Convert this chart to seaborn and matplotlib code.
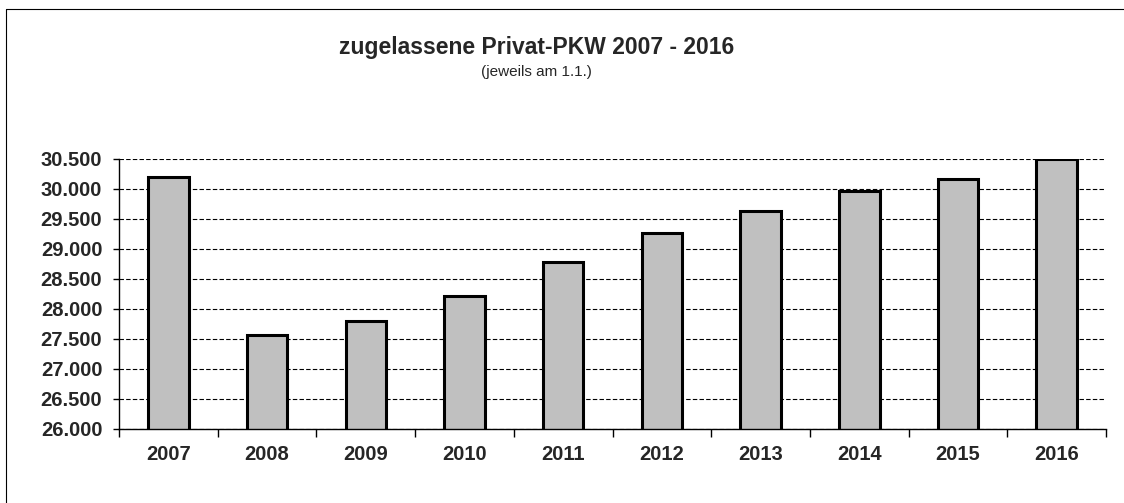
import matplotlib
matplotlib.use("Agg")
import matplotlib.pyplot as plt
import seaborn as sns
import pandas as pd
from matplotlib.lines import Line2D
from matplotlib.ticker import FuncFormatter, FixedLocator

# Daten (Tausend Privat-PKW, jeweils am 1.1.)
jahre = ["2007", "2008", "2009", "2010", "2011", "2012", "2013", "2014", "2015", "2016"]
pkw = [30200, 27560, 27800, 28220, 28780, 29260, 29630, 29970, 30160, 30500]
y_ticks = [26000, 26500, 27000, 27500, 28000, 28500, 29000, 29500, 30000, 30500]

sns.set_style("white")
plt.rcParams["font.family"] = ["Liberation Sans", "DejaVu Sans"]

df = pd.DataFrame({"Jahr": jahre, "PKW": pkw})

fig = plt.figure(figsize=(11.24, 5.03), dpi=100)
ax = fig.add_axes([0.1059, 0.1477, 0.8781, 0.5362])

sns.barplot(data=df, x="Jahr", y="PKW", color="#C0C0C0", edgecolor="black",
            linewidth=2.2, width=0.41, saturation=1, ax=ax)

ax.set_ylim(y_ticks[0], y_ticks[-1])
ax.set_xlim(-0.5, len(jahre) - 0.5)
ax.yaxis.set_major_locator(FixedLocator(y_ticks))
ax.yaxis.set_major_formatter(FuncFormatter(lambda v, p: f"{v:,.0f}".replace(",", ".")))
ax.set_axisbelow(True)
ax.grid(axis="y", color="black", linestyle=(0, (4, 2)), linewidth=0.8)
ax.grid(axis="x", visible=False)

ax.set_xlabel("")
ax.set_ylabel("")
for s in ["top", "right"]:
    ax.spines[s].set_visible(False)
for s in ["left", "bottom"]:
    ax.spines[s].set_color("black")
    ax.spines[s].set_linewidth(1.0)

# Teilstriche zwischen den Kategorien
ax.set_xticks([i - 0.5 for i in range(len(jahre) + 1)], minor=True)
ax.tick_params(axis="x", which="minor", direction="out", length=6, width=1, color="black", bottom=True)
ax.tick_params(axis="x", which="major", length=0, pad=12, labelsize=14.5)
ax.tick_params(axis="y", which="major", direction="out", length=4, width=1, color="black",
               pad=8, labelsize=14.5, left=True)
for lbl in ax.get_xticklabels() + ax.get_yticklabels():
    lbl.set_fontweight("bold")

fig.text(0.477, 0.905, "zugelassene Privat-PKW 2007 - 2016", ha="center", va="center",
         fontsize=16.5, fontweight="bold")
fig.text(0.477, 0.857, "(jeweils am 1.1.)", ha="center", va="center", fontsize=11)

# Rahmen (links und oben)
x0 = 6 / 1124
y0 = 1 - 9 / 503
fig.add_artist(Line2D([x0, x0], [-0.1, y0], color="black", linewidth=0.8, transform=fig.transFigure))
fig.add_artist(Line2D([x0, 1.1], [y0, y0], color="black", linewidth=0.8, transform=fig.transFigure))

fig.savefig("out.png", dpi=100)
